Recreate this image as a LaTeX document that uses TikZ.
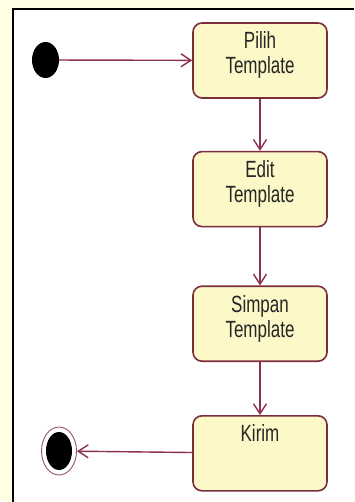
\documentclass[tikz,border=0pt]{standalone}
\usepackage{fontspec}
\setmainfont{Liberation Sans}
\usetikzlibrary{arrows.meta}
\usetikzlibrary{positioning}
\usetikzlibrary{shapes.geometric}
\definecolor{actfill}{HTML}{FCF8C8}
\definecolor{actline}{HTML}{7A2E3C}
\definecolor{flowline}{HTML}{8C2F55}
\definecolor{pagebg}{HTML}{FFFDE4}
\newcommand{\acttext}[1]{\scalebox{1}[1.38]{\parbox[c][41.3pt][t]{124pt}{\centering\fontsize{17}{18.1}\selectfont #1}}}

\begin{document}
\begin{tikzpicture}[x=1pt,y=-1pt,>={Straight Barb[length=10pt,width=13pt]},
    action/.style={draw=actline,fill=actfill,line width=1.6pt,rounded corners=9pt,
      minimum width=134pt,minimum height=75pt,inner sep=0pt,text=black!85},
    startdot/.style={ellipse,fill=black,minimum width=27pt,minimum height=36pt,inner sep=0pt},
    flow/.style={draw=flowline,line width=1.4pt}]
    \useasboundingbox (0,0) rectangle (354,502);
    % frame of the screenshot
    \fill[pagebg] (0,0) rectangle (354,502);
    \fill[white] (13,9) rectangle (354,502);
    \draw[line width=2.5pt] (13,502) -- (13,9) -- (354,9);

    \node[startdot] (start) at (45.5,60) {};
    \node[action] (pilih) at (260,60.5) {\acttext{Pilih\\Template}};
    \node[action] (edit) [below=52pt of pilih] {\acttext{Edit\\Template}};
    \node[action] (simpan) [below=58pt of edit] {\acttext{Simpan\\Template}};
    \node[action] (kirim) [below=53pt of simpan] {\acttext{Kirim}};
    \node[ellipse,draw=actline!80,line width=0.9pt,minimum width=35pt,minimum height=48pt,inner sep=0pt] (stop) at (59,451) {};
    \node[startdot,minimum width=26pt,minimum height=38pt] (stopdot) at (stop.center) {};

    \draw[flow,->] (start) -- (pilih);
    \draw[flow,->] (pilih) -- (edit);
    \draw[flow,->] (edit) -- (simpan);
    \draw[flow,->] (simpan) -- (kirim);
    \draw[flow,->] (kirim) -- (stop);
\end{tikzpicture}
\end{document}
